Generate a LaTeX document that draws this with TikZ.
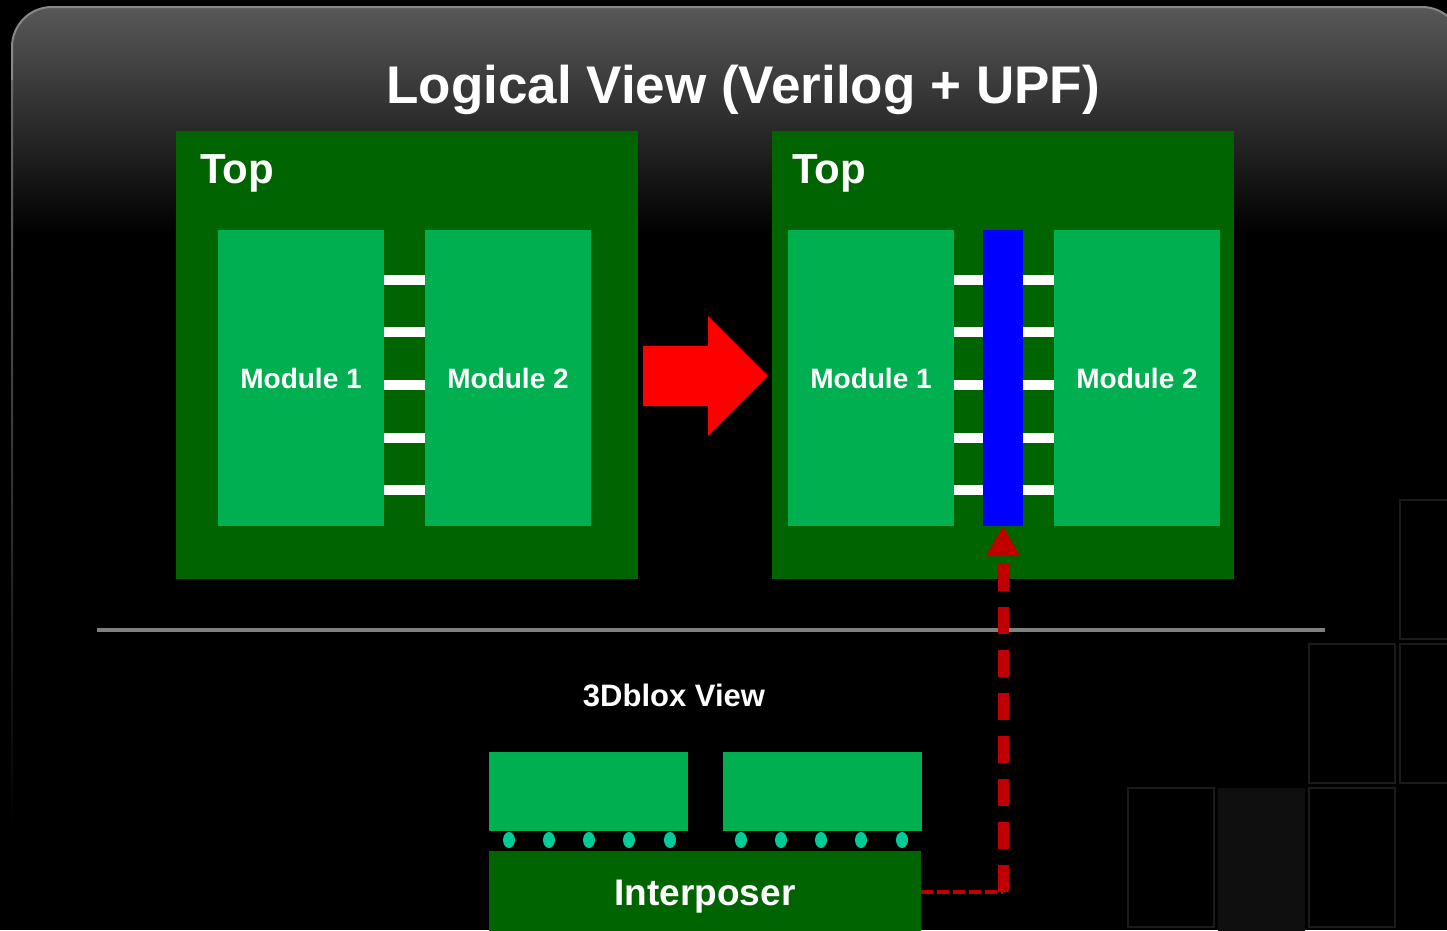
\documentclass[tikz,border=0pt]{standalone}
\usepackage{fontspec}
\setmainfont{Liberation Sans}
\usepackage{xcolor}
\usetikzlibrary{positioning}
\usetikzlibrary{arrows.meta}
\usetikzlibrary{shapes.arrows}

\definecolor{topgreen}{RGB}{0,100,0}
\definecolor{modgreen}{RGB}{0,176,80}
\definecolor{bumpgreen}{RGB}{0,204,153}
\definecolor{linkred}{RGB}{192,0,0}
\definecolor{panelgray}{RGB}{88,88,88}
\definecolor{bordergray}{RGB}{136,136,136}
\definecolor{tilegray}{RGB}{27,27,27}
\definecolor{tilefill}{RGB}{15,15,15}

\begin{document}
\begin{tikzpicture}[x=1pt,y=-1pt,
  topbox/.style={fill=topgreen,inner sep=0pt,outer sep=0pt,minimum width=462pt,minimum height=448pt,anchor=north west},
  modbox/.style={fill=modgreen,text=white,font=\bfseries\fontsize{28}{30}\selectfont,inner sep=0pt,outer sep=0pt,minimum width=166pt,minimum height=296pt,anchor=north west},
  toplabel/.style={text=white,font=\bfseries\fontsize{42}{44}\selectfont,inner sep=0pt,anchor=base west},
  wire/.style={white,line width=10pt},
  chip/.style={fill=modgreen,inner sep=0pt,outer sep=0pt,minimum width=199pt,minimum height=79pt,anchor=north west},
  tile/.style={draw=tilegray,line width=1.5pt}]
  \useasboundingbox (0,0) rectangle (1447,930);
  \fill[black] (0,0) rectangle (1447,930);
  % panel
  \begin{scope}
    \clip[rounded corners=40pt] (12,7) rectangle (1462,990);
    \shade[top color=panelgray,bottom color=black] (0,7) rectangle (1447,235);
  \end{scope}
  \draw[bordergray,line width=2pt,rounded corners=40pt] (12,80) -- (12,7) -- (1462,7) -- (1462,80);
  \shade[top color=bordergray!80!black,bottom color=black] (11,80) rectangle (13,830);
  % tiles
  \draw[tile] (1400,500) rectangle (1452,639);
  \draw[tile] (1309,644) rectangle (1395,783);
  \draw[tile] (1400,644) rectangle (1452,783);
  \draw[tile] (1128,788) rectangle (1214,927);
  \fill[tilefill] (1218,788) rectangle (1305,935);
  \draw[tile] (1309,788) rectangle (1395,927);

  \node[text=white,font=\bfseries\fontsize{53}{55}\selectfont,anchor=base] (title) at (743,103) {Logical View (Verilog + UPF)};

  % before
  \node[topbox] (topL) at (176,131) {};
  \node[toplabel] (topLtxt) at (200,183) {Top};
  \node[modbox] (m1L) at (218,230) {Module 1};
  \node[modbox] (m2L) at (425,230) {Module 2};
  \foreach \y in {280,332,385,438,490}
    \draw[wire] (m1L.east |- 0,\y) -- (m2L.west |- 0,\y);

  % after
  \node[topbox] (topR) at (772,131) {};
  \node[toplabel] (topRtxt) at (792,183) {Top};
  \node[modbox] (m1R) at (788,230) {Module 1};
  \node[fill=blue,inner sep=0pt,outer sep=0pt,minimum width=40pt,minimum height=296pt,anchor=north west] (upf) at (983,230) {};
  \node[modbox] (m2R) at (1054,230) {Module 2};
  \foreach \y in {280,332,385,438,490}{
    \draw[wire] (m1R.east |- 0,\y) -- (upf.west |- 0,\y);
    \draw[wire] (upf.east |- 0,\y) -- (m2R.west |- 0,\y);
  }

  \node[single arrow,fill=red,inner xsep=0pt,inner ysep=30pt,single arrow head extend=30pt,minimum height=125pt,anchor=tail] (step) at (643,376) {};

  \draw[gray,line width=4pt] (97,630) -- (1325,630);

  % 3Dblox
  \node[text=white,font=\bfseries\fontsize{31}{33}\selectfont,anchor=base] (bloxtxt) at (674,706) {3Dblox View};
  \node[chip] (chipA) at (489,752) {};
  \node[chip] (chipB) at (723,752) {};
  \foreach \x in {509,549,589,629,670,741,781,821,861,902}
    \fill[bumpgreen] (\x,840) ellipse (6 and 8);
  \node[fill=topgreen,inner sep=0pt,outer sep=0pt,minimum width=432pt,minimum height=82pt,anchor=north west] (interp) at (489,851) {};
  \node[text=white,font=\bfseries\fontsize{37}{39}\selectfont,anchor=base] (interptxt) at (705,905) {Interposer};

  \coordinate (bend) at (interp.east -| upf.south);
  \draw[linkred,line width=4pt,dash pattern=on 12pt off 4pt] (interp.east) -- (bend);
  \draw[linkred,line width=11pt,dash pattern=on 27pt off 16pt,-{Triangle[width=32pt,length=30pt]}] (bend) -- (upf.south);
\end{tikzpicture}
\end{document}
